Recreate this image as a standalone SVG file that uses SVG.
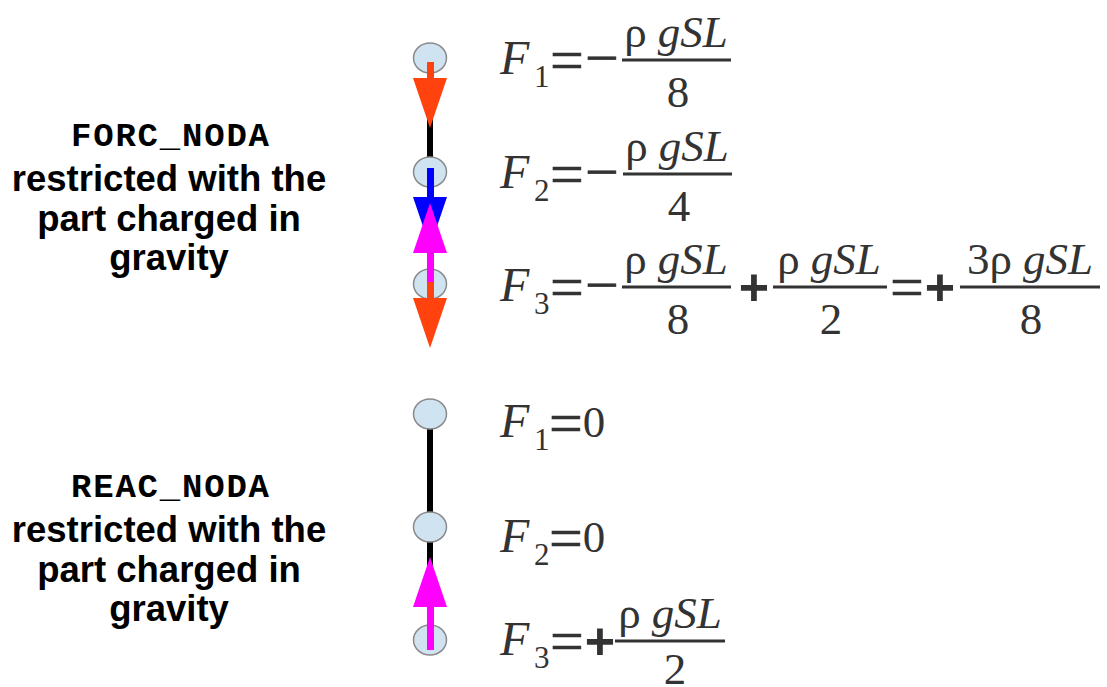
<svg xmlns="http://www.w3.org/2000/svg" width="1107" height="687" viewBox="0 0 1107 687">
<style>
.lbl{font-family:"Liberation Sans",Arial,sans-serif;font-weight:bold;font-size:36.5px;fill:#000;text-anchor:middle}
.code{font-family:"Liberation Mono","Courier New",monospace;font-weight:bold;font-size:34px;fill:#000;text-anchor:middle}
.m{font-family:"Liberation Serif","Times New Roman",serif;fill:#333}
.F{font-size:48px;font-style:italic}
.sub{font-size:31px}
.n{font-size:45px;text-anchor:middle}
.op{font-size:60px;text-anchor:middle;stroke:#333;stroke-width:0.6}
.pl{font-family:"Liberation Sans",Arial,sans-serif;font-weight:bold;font-size:52px;text-anchor:middle}
.it{font-style:italic}
.bar{stroke:#333;stroke-width:3}
.node{fill:#cfe3f1;stroke:#8a8a8a;stroke-width:1.5}
.rod{stroke:#000;stroke-width:6}
.red{fill:#ff420e}
.blue{fill:#0000ff}
.mag{fill:#ff00ff}
</style>
<g id="label-forc">
<text class="code" x="170" y="146" textLength="198" lengthAdjust="spacing">FORC_NODA</text>
<text class="lbl" x="169" y="191">restricted with the</text>
<text class="lbl" x="169" y="231">part charged in</text>
<text class="lbl" x="169" y="270">gravity</text>
</g>
<g id="label-reac">
<text class="code" x="170" y="497" textLength="198" lengthAdjust="spacing">REAC_NODA</text>
<text class="lbl" x="169" y="542">restricted with the</text>
<text class="lbl" x="169" y="582">part charged in</text>
<text class="lbl" x="169" y="621">gravity</text>
</g>
<g id="connectors">
<line class="rod" x1="430" y1="58" x2="430" y2="284"/>
<line class="rod" x1="430" y1="414" x2="430" y2="600"/>
</g>
<g id="node-t1"><ellipse class="node" cx="430" cy="58" rx="16.5" ry="15"/></g>
<g id="node-t2"><ellipse class="node" cx="430" cy="172" rx="16.5" ry="15"/></g>
<g id="node-t3"><ellipse class="node" cx="430" cy="284" rx="16.5" ry="15"/></g>
<g id="node-b1"><ellipse class="node" cx="430" cy="414" rx="16.5" ry="15"/></g>
<g id="node-b2"><ellipse class="node" cx="430" cy="527" rx="16.5" ry="15"/></g>
<g id="node-b3"><ellipse class="node" cx="430" cy="640" rx="16.5" ry="15"/></g>
<g id="arrows">
<rect class="red" x="427" y="62" width="7" height="17"/>
<polygon class="red" points="413,78 447,78 430,128"/>
<rect class="blue" x="427" y="168" width="7" height="30"/>
<polygon class="blue" points="413,197 447,197 430,247"/>
<rect class="mag" x="427" y="252" width="7" height="31"/>
<polygon class="mag" points="430,203 447,253 413,253"/>
<rect class="red" x="427" y="282" width="7" height="17"/>
<polygon class="red" points="413,298 447,298 430,348"/>
<rect class="mag" x="427" y="606" width="7" height="44"/>
<polygon class="mag" points="430,557 447,607 413,607"/>
</g>
<g id="eq-t1" class="m">
<text class="F" x="500" y="74">F</text><text class="sub" x="534" y="87">1</text>
<text class="op" x="567" y="80">=</text><text class="op" x="602" y="78">−</text>
<line class="bar" x1="622" y1="60" x2="731" y2="60"/>
<text class="n" x="676" y="47">ρ <tspan class="it">gSL</tspan></text>
<text class="n" x="678" y="107">8</text>
</g>
<g id="eq-t2" class="m">
<text class="F" x="500" y="188">F</text><text class="sub" x="534" y="201">2</text>
<text class="op" x="567" y="194">=</text><text class="op" x="602" y="192">−</text>
<line class="bar" x1="623" y1="174" x2="732" y2="174"/>
<text class="n" x="677" y="161">ρ <tspan class="it">gSL</tspan></text>
<text class="n" x="679" y="221">4</text>
</g>
<g id="eq-t3" class="m">
<text class="F" x="500" y="301">F</text><text class="sub" x="534" y="314">3</text>
<text class="op" x="567" y="307">=</text><text class="op" x="602" y="305">−</text>
<line class="bar" x1="622" y1="287" x2="731" y2="287"/>
<text class="n" x="676" y="274">ρ <tspan class="it">gSL</tspan></text>
<text class="n" x="678" y="334">8</text>
<text class="pl" x="754" y="305">+</text>
<line class="bar" x1="773" y1="287" x2="887" y2="287"/>
<text class="n" x="829" y="274">ρ <tspan class="it">gSL</tspan></text>
<text class="n" x="831" y="334">2</text>
<text class="op" x="907" y="307">=</text>
<text class="pl" x="940" y="305">+</text>
<line class="bar" x1="960" y1="287" x2="1100" y2="287"/>
<text class="n" x="1030" y="274">3ρ <tspan class="it">gSL</tspan></text>
<text class="n" x="1031" y="334">8</text>
</g>
<g id="eq-b1" class="m">
<text class="F" x="500" y="437">F</text><text class="sub" x="534" y="450">1</text>
<text class="op" x="566" y="443">=</text>
<text class="n" x="594" y="437">0</text>
</g>
<g id="eq-b2" class="m">
<text class="F" x="500" y="552">F</text><text class="sub" x="534" y="565">2</text>
<text class="op" x="566" y="558">=</text>
<text class="n" x="594" y="552">0</text>
</g>
<g id="eq-b3" class="m">
<text class="F" x="500" y="655">F</text><text class="sub" x="534" y="668">3</text>
<text class="op" x="567" y="661">=</text>
<text class="pl" x="600" y="659">+</text>
<line class="bar" x1="615" y1="641" x2="725" y2="641"/>
<text class="n" x="670" y="628">ρ <tspan class="it">gSL</tspan></text>
<text class="n" x="675" y="684">2</text>
</g>
</svg>
